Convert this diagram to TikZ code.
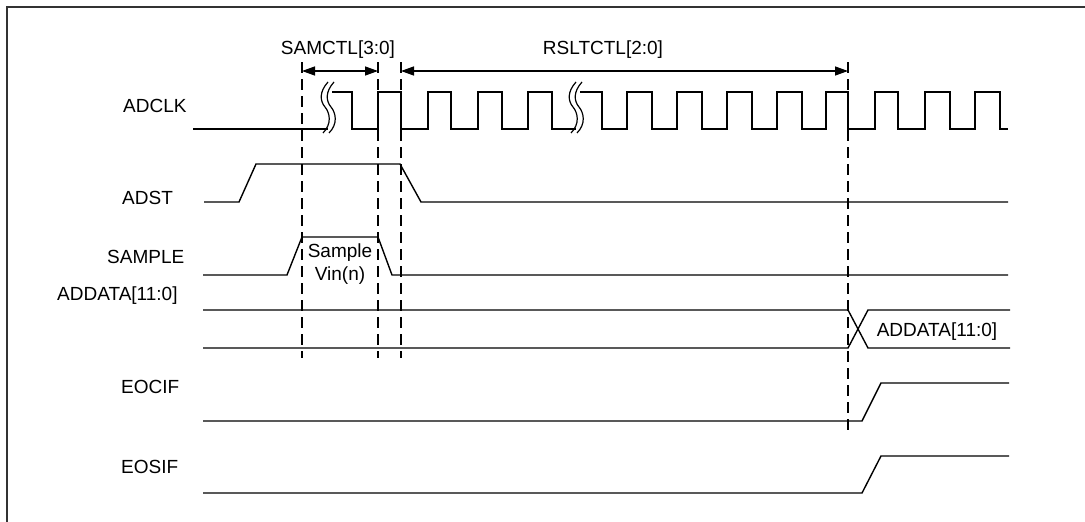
\documentclass[tikz,border=0pt]{standalone}
\usepackage{fontspec}
\setmainfont{Liberation Sans}
\usetikzlibrary{arrows.meta}
\begin{document}
\begin{tikzpicture}[x=1pt,y=-1pt,
  sig/.style={line width=1.4pt, line join=miter, line cap=butt},
  guide/.style={line width=1.3pt, dash pattern=on 11pt off 6pt},
  dim/.style={line width=1.3pt, {Triangle[length=13pt,width=9pt]}-{Triangle[length=13pt,width=9pt]}},
  lbl/.style={anchor=base west, inner sep=0pt, font=\fontsize{19}{21}\selectfont},
  ctr/.style={anchor=base, inner sep=0pt, font=\fontsize{19}{21}\selectfont},
  wave/.style={line width=1.2pt}]
\useasboundingbox (0,0) rectangle (1085,522);
% frame
\draw[line width=2pt, black!80] (7,522) -- (7,7) -- (1085,7);
% labels
\node[lbl] (lclk) at (123,112) {ADCLK};
\node[lbl] (ladst) at (122,204) {ADST};
\node[lbl] (lsmp) at (107,263) {SAMPLE};
\node[lbl] (ldata) at (57,300) {ADDATA[11:0]};
\node[lbl] (leoc) at (121,393) {EOCIF};
\node[lbl] (leos) at (121,473) {EOSIF};
\node[ctr] (tsam) at (338,54) {SAMCTL[3:0]};
\node[ctr] (trsl) at (603,54) {RSLTCTL[2:0]};
\node[ctr] (ts1) at (340,257) {Sample};
\node[ctr] (ts2) at (340,280) {Vin(n)};
\node[ctr] (tdat) at (937,336) {ADDATA[11:0]};
% guide lines
\coordinate (g1t) at (302,62); \coordinate (g1b) at (302,358);
\coordinate (g2t) at (378,62); \coordinate (g2b) at (378,358);
\coordinate (g3t) at (401,62); \coordinate (g3b) at (401,358);
\coordinate (g4t) at (848,62); \coordinate (g4b) at (848,433);
\draw[guide] (g1t) -- (g1b);
\draw[guide] (g2t) -- (g2b);
\draw[guide] (g3t) -- (g3b);
\draw[guide] (g4t) -- (g4b);
% dimension arrows
\coordinate (a1) at (302,71); \coordinate (a2) at (378,71);
\coordinate (a3) at (401,71); \coordinate (a4) at (848,71);
\draw[dim] (a1) -- (a2);
\draw[dim] (a3) -- (a4);
% ADCLK
\draw[sig] (193,129) -- (328,129);
\draw[sig] (332,92) -- (352,92) -- (352,129) -- (378,129) -- (378,92) -- (401,92) -- (401,129)
  -- (428,129) -- (428,92) -- (451,92) -- (451,129) -- (478,129) -- (478,92) -- (502,92) -- (502,129)
  -- (528,129) -- (528,92) -- (552,92) -- (552,129) -- (576,129);
\draw[sig] (580,92) -- (602,92) -- (602,129) -- (627,129) -- (627,92) -- (652,92) -- (652,129)
  -- (677,129) -- (677,92) -- (702,92) -- (702,129) -- (727,129) -- (727,92) -- (752,92) -- (752,129)
  -- (777,129) -- (777,92) -- (802,92) -- (802,129) -- (826,129) -- (826,92) -- (848,92) -- (848,129)
  -- (875,129) -- (875,92) -- (898,92) -- (898,129) -- (925,129) -- (925,92) -- (950,92) -- (950,129)
  -- (975,129) -- (975,92) -- (1000,92) -- (1000,129) -- (1008,129);
% break marks
\foreach \c in {325,331,573,579}{
  \draw[wave] (\c+3,82) .. controls (\c-6,92) and (\c-5,101) .. (\c,107)
    .. controls (\c+5,113) and (\c+7,124) .. (\c-2,133);
}
% ADST
\draw[sig] (204,202) -- (239,202) -- (256,164) -- (400,164) -- (421,202) -- (1008,202);
% SAMPLE
\draw[sig] (203,275) -- (287,275) -- (302,237) -- (378,237) -- (392,275) -- (1008,275);
% ADDATA
\draw[sig] (203,310) -- (848,310) -- (868,348) -- (1010,348);
\draw[sig] (203,348) -- (848,348) -- (868,310) -- (1010,310);
% EOCIF
\draw[sig] (203,421) -- (862,421) -- (881,383) -- (1009,383);
% EOSIF
\draw[sig] (203,493) -- (862,493) -- (881,456) -- (1009,456);
\end{tikzpicture}
\end{document}
